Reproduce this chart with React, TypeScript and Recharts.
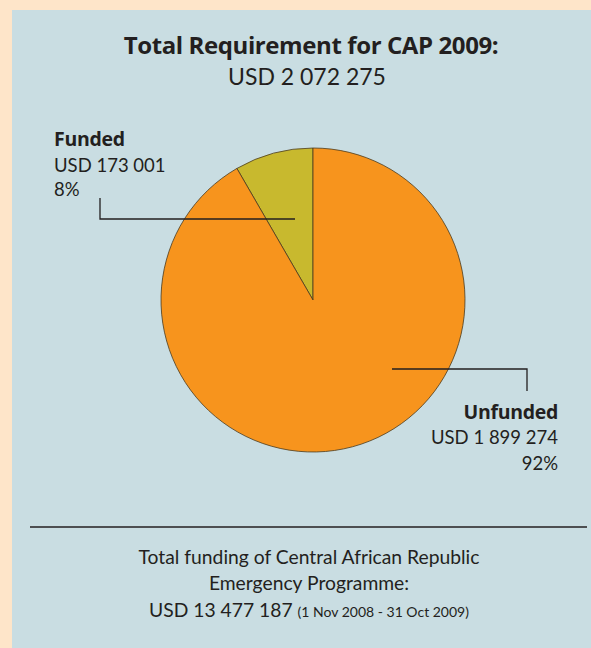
import React from "react";
import { PieChart, Pie, Cell } from "recharts";

const W = 591;
const H = 648;

const SLICES = ["Funded", "Unfunded"];
const AMOUNTS = [173001, 1899274];
const AMOUNT_LABELS = ["USD 173 001", "USD 1 899 274"];
const PERCENTS = ["8%", "92%"];
const COLORS = ["#c8b92e", "#f7941d"];

const data = SLICES.map((name, i) => ({ name, value: AMOUNTS[i] }));

const FONT = "Lato, 'Open Sans', sans-serif";
const BOLD = "'Open Sans', Lato, sans-serif";
const INK = "#231f20";

export default function App() {
  return (
    <div style={{ position: "absolute", left: 0, top: 0, width: W, height: H, background: "#fee5c9", fontFamily: FONT }}>
      <div style={{ position: "absolute", left: 12, top: 10, right: 0, bottom: 0, background: "#c9dde2" }} />
      <div style={{ position: "absolute", left: 0, top: 0 }}>
        <PieChart width={W} height={H} margin={{ top: 0, right: 0, bottom: 0, left: 0 }}>
          <Pie
            data={data}
            dataKey="value"
            nameKey="name"
            cx={313}
            cy={300}
            outerRadius={152}
            startAngle={90}
            endAngle={450}
            stroke="#4a3b1f"
            strokeWidth={0.8}
            isAnimationActive={false}
          >
            {data.map((d, i) => (
              <Cell key={d.name} fill={COLORS[i]} />
            ))}
          </Pie>
        </PieChart>
      </div>
      <svg width={W} height={H} style={{ position: "absolute", left: 0, top: 0, pointerEvents: "none" }}>
        <g fill={INK} fontFamily={FONT}>
          <text x={311} y={54} textAnchor="middle" fontSize={24} fontWeight={700} fontFamily={BOLD} letterSpacing={-0.4}>
            Total Requirement for CAP 2009:
          </text>
          <text x={307} y={85} textAnchor="middle" fontSize={23}>USD 2 072 275</text>

          <text x={54} y={146} fontSize={19.5} fontWeight={700} fontFamily={BOLD} letterSpacing={-0.3}>{SLICES[0]}</text>
          <text x={54} y={172} fontSize={18.5}>{AMOUNT_LABELS[0]}</text>
          <text x={54} y={196} fontSize={18.5}>{PERCENTS[0]}</text>

          <text x={558} y={419} textAnchor="end" fontSize={19.5} fontWeight={700} fontFamily={BOLD} letterSpacing={-0.3}>{SLICES[1]}</text>
          <text x={558} y={444} textAnchor="end" fontSize={18.5}>{AMOUNT_LABELS[1]}</text>
          <text x={558} y={470} textAnchor="end" fontSize={18.5}>{PERCENTS[1]}</text>

          <text x={309} y={564} textAnchor="middle" fontSize={19.3}>Total funding of Central African Republic</text>
          <text x={309} y={590} textAnchor="middle" fontSize={19.3}>Emergency Programme:</text>
          <text x={309} y={617} textAnchor="middle" fontSize={19.3}>
            USD 13 477 187 <tspan fontSize={14}>(1 Nov 2008 - 31 Oct 2009)</tspan>
          </text>
        </g>
        <g stroke={INK} strokeWidth={1.3} fill="none">
          <polyline points="100,198 100,219 295,219" />
          <polyline points="392,369 527,369 527,391" />
          <line x1={30} y1={527} x2={587} y2={527} />
        </g>
      </svg>
    </div>
  );
}
